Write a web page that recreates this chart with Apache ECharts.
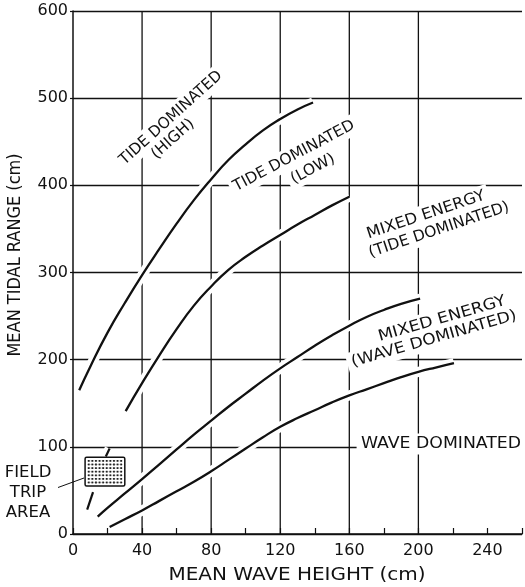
<!DOCTYPE html>
<html>
<head>
<meta charset="utf-8">
<script src="https://cdn.jsdelivr.net/npm/echarts@6/dist/echarts.min.js"></script>
<style>html,body{margin:0;padding:0;background:#fff}#c{width:525px;height:587px}</style>
</head>
<body>
<div id="c"></div>
<script>
// ---- data (mean wave height cm, mean tidal range cm) ----
const tideHigh  = [[3.6,165],[10,192],[20,231],[30,265],[40,297],[50,327],[60,356],[70,383],[80,407],[90,429],[100,447],[110,463],[120,476],[130,487],[139,495]];
const tideLow   = [[30.5,141],[40,173],[50,205],[60,235],[70,262],[80,284],[90,303],[100,318],[110,331],[120,343],[130,355],[140,366],[150,377],[160,387]];
const mixedTide = [[14.3,20],[20,30],[30,46.5],[40,63],[50,80],[60,97],[70,114],[80,130],[90,146],[100,161],[110,176],[120,190],[130,203],[140,216],[150,228],[160,239],[170,249],[180,257],[190,264],[201,270]];
const waveDom   = [[21.2,8],[30,17],[40,27],[50,38],[60,49],[70,60],[80,72],[90,85],[100,98],[110,111],[120,123],[130,133],[140,142],[150,151],[160,159],[170,166],[180,173],[190,180],[200,186],[210,191],[220.6,196]];
const extDashLow  = [[8.2,28],[11.6,48]];
const extDashHigh = [[19,89],[21.2,98]];
const fieldTrip = [[7,55,30,88]];           // x0, y0, x1, y1
const gridX = [40,80,120,160,200];           // vertical grid lines
const xTickLabels = [0,40,80,120,160,200,240];
const yTickLabels = [0,100,200,300,400,500,600];

// ---- texts ----
const FONT = 'DejaVu Sans';
const ink = '#111';
const annotations = [
  {text:'TIDE DOMINATED',   x:171, y:118, rot:42, size:15.5, sx:0.98},
  {text:'(HIGH)',           x:173, y:139, rot:42, size:15.5, sx:1.0},
  {text:'TIDE DOMINATED',   x:294, y:156, rot:28, size:15.5, sx:1.0},
  {text:'(LOW)',            x:313, y:169, rot:28, size:15.5, sx:1.0},
  {text:'MIXED ENERGY',     x:426, y:215, rot:18.5, size:15.5, sx:1.05},
  {text:'(TIDE DOMINATED)', x:439, y:230, rot:18.5, size:15.5, sx:1.0},
  {text:'MIXED ENERGY',     x:442, y:319, rot:16, size:15.5, sx:1.12},
  {text:'(WAVE DOMINATED)', x:434, y:339, rot:16, size:15.5, sx:1.1},
  {text:'WAVE DOMINATED',   x:441, y:444, rot:0,  size:16, sx:1.08}
];
const sideLabels = [
  {text:'FIELD', x:28, y:473},
  {text:'TRIP',  x:28, y:493},
  {text:'AREA',  x:28, y:513}
];

const chart = echarts.init(document.getElementById('c'), null, {renderer:'canvas'});

function curve(name, data, w) {
  return [
    {name:name+' casing', type:'line', data:data, smooth:0.5, symbol:'none', z:2, silent:true,
     lineStyle:{color:'#fff', width:10, cap:'butt'}},
    {name:name, type:'line', data:data, smooth:0.5, symbol:'none', z:3, silent:true,
     lineStyle:{color:ink, width:w, cap:'butt'}}
  ];
}

const graphics = [];
annotations.forEach(a => {
  graphics.push({
    type:'text', x:a.x, y:a.y, rotation:a.rot*Math.PI/180, scaleX:a.sx, z:100, silent:true,
    style:{text:a.text, font:a.size+'px "'+FONT+'"', fill:ink, align:'center', verticalAlign:'middle',
           backgroundColor:'#fff', padding:[3,4,2,4]}
  });
});
sideLabels.forEach(a => {
  graphics.push({
    type:'text', x:a.x, y:a.y, scaleX:1.1, z:100, silent:true,
    style:{text:a.text, font:'15px "'+FONT+'"', fill:ink, align:'center', verticalAlign:'middle'}
  });
});
graphics.push({type:'line', z:100, silent:true, shape:{x1:58, y1:487.5, x2:84, y2:478},
  style:{stroke:ink, lineWidth:1}});
graphics.push({type:'text', x:16, y:255, rotation:Math.PI/2, scaleX:0.95, z:100, silent:true,
  style:{text:'MEAN TIDAL RANGE (cm)', font:'17px "'+FONT+'"', fill:ink, align:'center', verticalAlign:'middle'}});
graphics.push({type:'text', x:297, y:575, scaleX:1.11, z:100, silent:true,
  style:{text:'MEAN WAVE HEIGHT (cm)', font:'18px "'+FONT+'"', fill:ink, align:'center', verticalAlign:'middle'}});

const option = {
  animation:false,
  backgroundColor:'#fff',
  grid:{left:73, top:11, width:453.7, height:523, containLabel:false},
  xAxis:{
    type:'value', min:0, max:260, interval:20,
    axisLine:{show:true, onZero:false, lineStyle:{color:ink, width:1.5}},
    axisTick:{show:true, inside:true, length:6, lineStyle:{color:ink, width:1.2}},
    splitLine:{show:false},
    axisLabel:{margin:9, color:ink, fontFamily:FONT, fontSize:16,
      formatter:v => xTickLabels.indexOf(v) >= 0 ? String(v) : ''}
  },
  yAxis:{
    type:'value', min:0, max:600, interval:100,
    axisLine:{show:true, onZero:false, lineStyle:{color:ink, width:1.5}},
    axisTick:{show:true, length:3, lineStyle:{color:ink, width:1.2}},
    splitLine:{show:true, lineStyle:{color:ink, width:1.3}},
    axisLabel:{margin:5, color:ink, fontFamily:FONT, fontSize:16,
      formatter:v => yTickLabels.indexOf(v) >= 0 ? String(v) : ''}
  },
  graphic:{elements:graphics},
  series:[
    {type:'custom', name:'grid x', z:1, silent:true,
     data:gridX.map(v => [v, 0]),
     encode:{x:0, y:1},
     renderItem:(params, api) => {
       const x = api.value(0);
       const p0 = api.coord([x, 0]);
       const p1 = api.coord([x, 600]);
       return {type:'line', shape:{x1:p0[0], y1:p0[1], x2:p1[0], y2:p1[1]},
               style:{stroke:ink, lineWidth:1.3}};
     }},
    ...curve('Tide dominated (high)', tideHigh, 2.3),
    ...curve('Tide dominated (low)', tideLow, 2.3),
    ...curve('Mixed energy (tide dominated)', mixedTide, 2.3),
    ...curve('Mixed energy (wave dominated)', waveDom, 2.3),
    ...curve('ext a', extDashLow, 2.2),
    ...curve('ext b', extDashHigh, 2.2),
    {type:'custom', name:'Field trip area', z:5, silent:true,
     data:fieldTrip,
     encode:{x:[0,2], y:[1,3]},
     renderItem:(params, api) => {
       const tl = api.coord([api.value(0), api.value(3)]);
       const br = api.coord([api.value(2), api.value(1)]);
       const w = br[0]-tl[0], h = br[1]-tl[1];
       const children = [{type:'rect', shape:{x:tl[0], y:tl[1], width:w, height:h, r:1.5},
                          style:{fill:'#fff', stroke:ink, lineWidth:1.5}}];
       const step = 3.6;
       const nx = Math.floor((w-3)/step), ny = Math.floor((h-3)/step);
       const ox = tl[0] + (w - (nx-1)*step)/2, oy = tl[1] + (h - (ny-1)*step)/2;
       for (let j=0;j<ny;j++) children.push({type:'line', shape:{x1:tl[0]+2, y1:oy+j*step, x2:br[0]-2, y2:oy+j*step}, style:{stroke:'#aaa', lineWidth:0.5}});
       for (let i=0;i<nx;i++) for (let j=0;j<ny;j++) {
         children.push({type:'rect', shape:{x:ox+i*step-0.9, y:oy+j*step-0.9, width:1.8, height:1.8},
                        style:{fill:'#222'}});
       }
       return {type:'group', children:children};
     }}
  ]
};
chart.setOption(option);
</script>
</body>
</html>
